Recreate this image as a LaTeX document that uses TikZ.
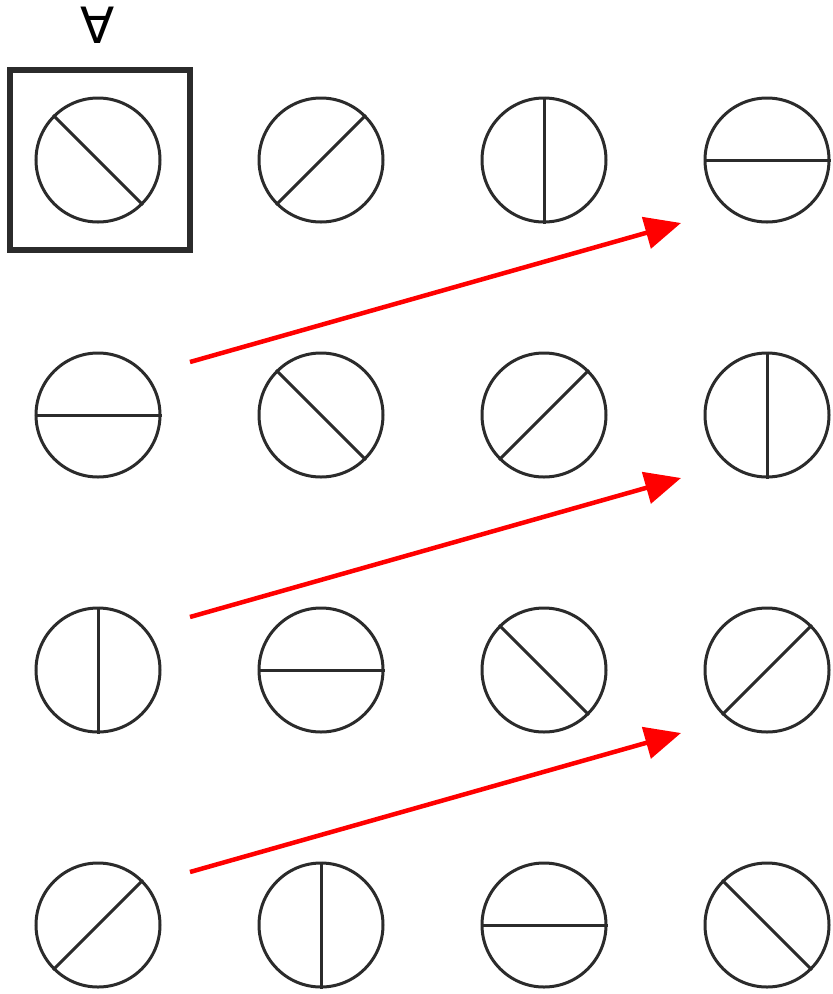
\documentclass[tikz,border=0pt]{standalone}
\usepackage{fontspec}
\newfontfamily\symfont{DejaVu Sans}
\usetikzlibrary{arrows.meta}
\definecolor{ink}{HTML}{2B2B2B}
\tikzset{
  disc/.style={circle, draw=ink, line width=3pt, minimum size=124pt, inner sep=0pt},
  bar/.style={draw=ink, line width=3pt},
  frame/.style={draw=ink, line width=6pt, minimum size=180pt, inner sep=0pt},
  redarrow/.style={draw=red, line width=4.5pt, -{Triangle[length=36pt,width=32pt]}},
}
\begin{document}
\begin{tikzpicture}[x=1pt,y=-1pt]
\useasboundingbox (0,0) rectangle (833,994);
\node[frame] (box) at (100,160) {};
\node[font=\symfont\fontsize{50}{50}\selectfont] (sym) at (98,25) {∀};
% columns x, rows y
\foreach \r/\y in {1/160,2/415,3/670,4/925}{
  \foreach \c/\x in {1/98,2/321,3/544,4/767}{
    \node[disc] (c\r\c) at (\x,\y) {};
  }
}
% slash types: "\" , "/", vertical, horizontal
\foreach \n in {c11,c22,c33,c44}{ \draw[bar] (\n.135) -- (\n.-45); }
\foreach \n in {c12,c23,c34,c41}{ \draw[bar] (\n.45) -- (\n.-135); }
\foreach \n in {c13,c24,c31,c42}{ \draw[bar] (\n.north) -- (\n.south); }
\foreach \n in {c14,c21,c32,c43}{ \draw[bar] (\n.west) -- (\n.east); }
% arrows
\coordinate (s1) at (190,362); \coordinate (t1) at (681,223);
\coordinate (s2) at (190,617); \coordinate (t2) at (681,478);
\coordinate (s3) at (190,872); \coordinate (t3) at (681,733);
\draw[redarrow] (s1) -- (t1);
\draw[redarrow] (s2) -- (t2);
\draw[redarrow] (s3) -- (t3);
\end{tikzpicture}
\end{document}
